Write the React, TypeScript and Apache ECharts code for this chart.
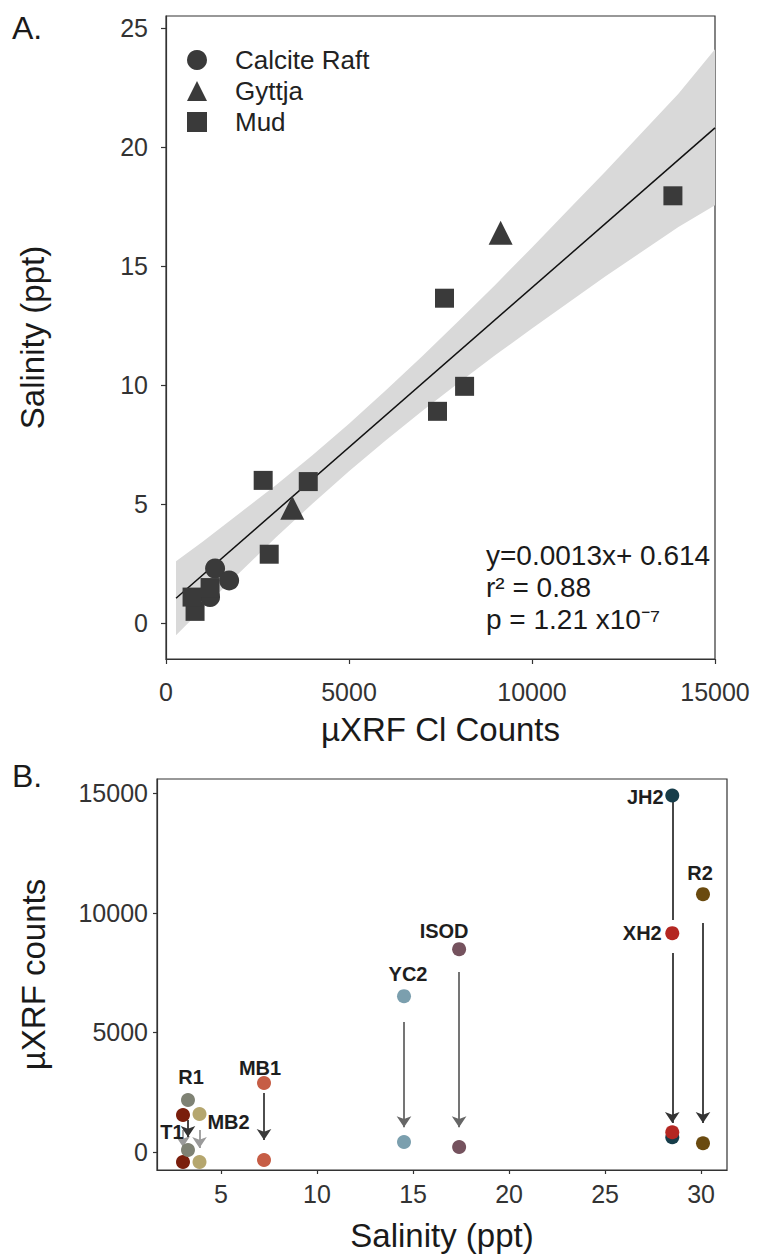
import React, { useEffect, useRef } from "react";
import * as echarts from "echarts";

// ---------- Panel A data ----------
const calciteX = [1341, 1725, 1204];
const calciteY = [2.3, 1.8, 1.1];
const gyttjaX = [9143, 3450];
const gyttjaY = [16.4, 4.85];
const mudX = [794, 712, 1204, 2655, 2820, 3887, 7418, 8158, 7610, 13850];
const mudY = [0.5, 1.1, 1.5, 6.0, 2.9, 5.95, 8.9, 9.95, 13.65, 17.95];

const fitX = [274, 15000];
const fitY = [1.05, 20.8];

const bandX = [274, 1000, 2000, 3000, 4000, 5000, 6000, 7000, 8000, 9000, 10000, 11000, 12000, 13000, 14000, 15000];
const bandUpper = [2.6, 3.42, 4.61, 5.8, 7.06, 8.38, 9.77, 11.21, 12.7, 14.22, 15.78, 17.37, 18.96, 20.6, 22.24, 24.1];
const bandLower = [-0.5, 0.62, 2.11, 3.6, 5.02, 6.38, 7.67, 8.91, 10.1, 11.26, 12.38, 13.47, 14.56, 15.6, 16.64, 17.55];

const aXTicks = [0, 5000, 10000, 15000];
const aYTicks = [0, 5, 10, 15, 20, 25];

const eqLines = ["y=0.0013x+ 0.614", "r\u00B2 = 0.88", "p = 1.21 x10\u207B\u2077"];

// ---------- Panel B data ----------
const sites = ["T1", "R1", "MB2", "MB1", "YC2", "ISOD", "JH2", "XH2", "R2"];
const salinity = [3.02, 3.28, 3.88, 7.24, 14.53, 17.4, 28.5, 28.5, 30.1];
const countsTop = [1547, 2174, 1590, 2884, 6515, 8479, 14900, 9148, 10778];
const countsBottom = [-418, 84, -418, -334, 418, 209, 620, 828, 370];
const arrowFrom = [920, 1340, 920, 2466, 5430, 7520, 14700, 8320, 9570];
const arrowTo = [210, 630, 170, 500, 1040, 1040, 9700, 1210, 1210];
const arrowHead = [true, true, true, true, true, true, false, true, true];

const bXTicks = [5, 10, 15, 20, 25, 30];
const bYTicks = [0, 5000, 10000, 15000];

// styles (not data)
const siteColors = ["#7a1e0c", "#7f8274", "#b5a66e", "#c65d45", "#7b9fae", "#75525e", "#163d4a", "#b42722", "#6a4a0f"];
const arrowColors = ["#9a9a9a", "#333333", "#9a9a9a", "#3a3a3a", "#666666", "#666666", "#333333", "#333333", "#333333"];
const labelOffsets: [number, number][] = [
  [-11, 17], [3, -23], [29, 8], [-4, -15], [4, -22], [-15, -18], [-27, 1], [-30, 0], [-3, -21],
];

const FONT = "Liberation Sans, Arial, sans-serif";
const MARK = "#3a3a3a";
const plain = (v: number) => String(v);

export default function App() {
  const ref = useRef<HTMLDivElement>(null);
  useEffect(() => {
    if (!ref.current) return;
    const chart = echarts.init(ref.current, null, { renderer: "svg" });

    const axisCommon = {
      axisLine: { show: true, onZero: false, lineStyle: { color: "#333", width: 1.2 } },
      axisTick: { show: true, length: 5, lineStyle: { color: "#333", width: 1.2 } },
      splitLine: { show: false },
      nameTextStyle: { fontSize: 33, color: "#1a1a1a", fontFamily: FONT },
    };

    const topPts = sites.map((s, i) => ({
      value: [salinity[i], countsTop[i]],
      itemStyle: { color: siteColors[i], opacity: 1 },
      label: {
        show: true,
        formatter: s,
        position: "inside",
        offset: labelOffsets[i],
        fontSize: 20,
        fontWeight: "bold",
        color: "#1e1e1e",
        textBorderWidth: 0,
        textBorderColor: "transparent",
        fontFamily: FONT,
      },
    }));
    const bottomPts = sites.map((s, i) => ({
      value: [salinity[i], countsBottom[i]],
      itemStyle: { color: siteColors[i], opacity: 1 },
    }));

    const mkArrow = (i: number) => ({
      coords: [[salinity[i], arrowFrom[i]], [salinity[i], arrowTo[i]]],
      lineStyle: { color: arrowColors[i] },
    });
    const arrowsWithHead = sites.map((s, i) => i).filter((i) => arrowHead[i]).map(mkArrow);
    const arrowsNoHead = sites.map((s, i) => i).filter((i) => !arrowHead[i]).map(mkArrow);

    chart.setOption({
      animation: false,
      textStyle: { fontFamily: FONT },
      grid: [
        { left: 166, right: 44, top: 16, bottom: 597, show: true, borderColor: "#333", borderWidth: 1.2, containLabel: false },
        { left: 157, right: 32, top: 779, bottom: 86, show: true, borderColor: "#333", borderWidth: 1.2, containLabel: false },
      ],
      legend: {
        orient: "vertical",
        left: 182,
        top: 42,
        itemWidth: 20,
        itemHeight: 20,
        itemGap: 5,
        textStyle: { fontSize: 26, color: "#222", fontFamily: FONT, padding: [0, 0, 0, 23] },
        data: [
          { name: "Calcite Raft", icon: "circle" },
          { name: "Gyttja", icon: "triangle" },
          { name: "Mud", icon: "rect" },
        ],
      },
      xAxis: [
        {
          ...axisCommon,
          type: "value",
          gridIndex: 0,
          min: 0,
          max: 15000,
          name: "\u00B5XRF Cl Counts",
          nameLocation: "middle",
          nameGap: 54,
          axisLabel: { customValues: aXTicks, formatter: plain, fontSize: 25, color: "#333", margin: 20, fontFamily: FONT },
          axisTick: { ...axisCommon.axisTick, customValues: aXTicks },
        },
        {
          ...axisCommon,
          type: "value",
          gridIndex: 1,
          min: 1.667,
          max: 31.35,
          name: "Salinity (ppt)",
          nameLocation: "middle",
          nameGap: 49,
          axisLabel: { customValues: bXTicks, formatter: plain, fontSize: 25, color: "#333", margin: 11, fontFamily: FONT },
          axisTick: { ...axisCommon.axisTick, length: 4, customValues: bXTicks },
        },
      ],
      yAxis: [
        {
          ...axisCommon,
          type: "value",
          gridIndex: 0,
          min: -1.5,
          max: 25.5,
          name: "Salinity (ppt)",
          nameLocation: "middle",
          nameGap: 117,
          axisLabel: { customValues: aYTicks, formatter: plain, fontSize: 25, color: "#333", margin: 18, fontFamily: FONT },
          axisTick: { ...axisCommon.axisTick, customValues: aYTicks },
        },
        {
          ...axisCommon,
          type: "value",
          gridIndex: 1,
          min: -750,
          max: 15590,
          name: "\u00B5XRF counts",
          nameLocation: "middle",
          nameGap: 107,
          axisLabel: { customValues: bYTicks, formatter: plain, fontSize: 25, color: "#333", margin: 9, fontFamily: FONT },
          axisTick: { ...axisCommon.axisTick, length: 4, customValues: bYTicks },
        },
      ],
      series: [
        {
          type: "custom",
          xAxisIndex: 0,
          yAxisIndex: 0,
          silent: true,
          z: 1,
          data: [[bandX[0], bandLower[0]]],
          renderItem: (params: any, api: any) => {
            const pts: number[][] = [];
            for (let i = 0; i < bandX.length; i++) pts.push(api.coord([bandX[i], bandUpper[i]]));
            for (let i = bandX.length - 1; i >= 0; i--) pts.push(api.coord([bandX[i], bandLower[i]]));
            return { type: "polygon", shape: { points: pts }, style: { fill: "#d9d9d9" } };
          },
        },
        {
          type: "line",
          xAxisIndex: 0,
          yAxisIndex: 0,
          z: 2,
          symbol: "none",
          lineStyle: { color: "#111", width: 1.5 },
          data: fitX.map((x, i) => [x, fitY[i]]),
        },
        {
          name: "Calcite Raft",
          type: "scatter",
          xAxisIndex: 0,
          yAxisIndex: 0,
          z: 3,
          symbol: "circle",
          symbolSize: 20,
          itemStyle: { color: MARK, opacity: 1 },
          data: calciteX.map((x, i) => [x, calciteY[i]]),
        },
        {
          name: "Gyttja",
          type: "scatter",
          xAxisIndex: 0,
          yAxisIndex: 0,
          z: 3,
          symbol: "triangle",
          symbolSize: 24,
          itemStyle: { color: MARK, opacity: 1 },
          data: gyttjaX.map((x, i) => [x, gyttjaY[i]]),
        },
        {
          name: "Mud",
          type: "scatter",
          xAxisIndex: 0,
          yAxisIndex: 0,
          z: 3,
          symbol: "rect",
          symbolSize: 19,
          itemStyle: { color: MARK, opacity: 1 },
          data: mudX.map((x, i) => [x, mudY[i]]),
        },
        {
          type: "lines",
          coordinateSystem: "cartesian2d",
          xAxisIndex: 1,
          yAxisIndex: 1,
          z: 2,
          symbol: ["none", "arrow"],
          symbolSize: 11,
          lineStyle: { width: 1.8, opacity: 1 },
          data: arrowsWithHead,
        },
        {
          type: "lines",
          coordinateSystem: "cartesian2d",
          xAxisIndex: 1,
          yAxisIndex: 1,
          z: 2,
          symbol: ["none", "none"],
          lineStyle: { width: 1.8, opacity: 1 },
          data: arrowsNoHead,
        },
        {
          type: "scatter",
          xAxisIndex: 1,
          yAxisIndex: 1,
          z: 3,
          symbolSize: 14,
          data: bottomPts,
        },
        {
          type: "scatter",
          xAxisIndex: 1,
          yAxisIndex: 1,
          z: 4,
          symbolSize: 14,
          data: topPts,
        },
      ],
      graphic: [
        { type: "text", left: 12, top: 12, style: { text: "A.", fontSize: 32, fill: "#1a1a1a", fontFamily: FONT } },
        { type: "text", left: 12, top: 760, style: { text: "B.", fontSize: 32, fill: "#1a1a1a", fontFamily: FONT } },
        ...eqLines.map((t, i) => ({
          type: "text",
          left: 486,
          top: 541 + i * 32,
          style: { text: t, fontSize: 28, fill: "#1a1a1a", fontFamily: FONT },
        })),
      ],
    });
    return () => chart.dispose();
  }, []);

  return <div ref={ref} style={{ position: "absolute", left: 0, top: 0, width: 759, height: 1256, background: "#fff" }} />;
}
